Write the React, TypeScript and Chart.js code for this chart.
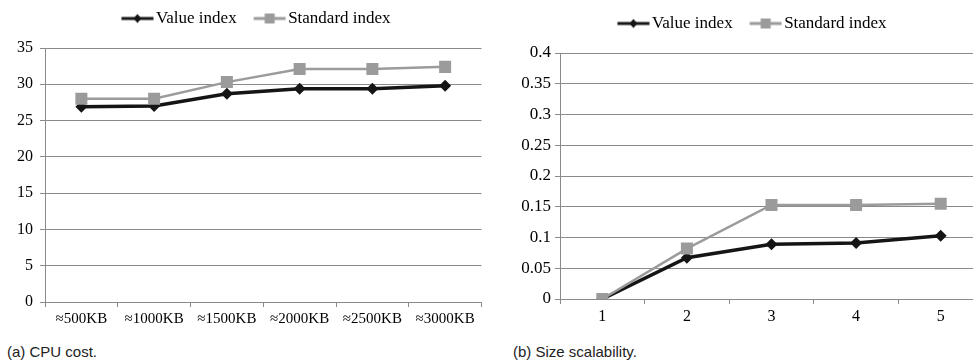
import React, { useEffect, useRef } from "react";
import { Chart, registerables } from "chart.js";

Chart.register(...registerables);

const SERIF = "'Liberation Serif', 'DejaVu Serif', serif";
Chart.defaults.font.family = SERIF;

const seriesNames = ["Value index", "Standard index"];

const cpuCategories = ["≈500KB", "≈1000KB", "≈1500KB", "≈2000KB", "≈2500KB", "≈3000KB"];
const cpuValueIndex = [26.9, 27.0, 28.7, 29.4, 29.4, 29.8];
const cpuStandardIndex = [28.0, 28.0, 30.3, 32.1, 32.1, 32.4];

const sizeCategories = ["1", "2", "3", "4", "5"];
const sizeValueIndex = [0, 0.067, 0.089, 0.091, 0.103];
const sizeStandardIndex = [0, 0.082, 0.153, 0.153, 0.155];

const BLACK = "#151515";
const GRAY = "#9b9b9b";
const GRID = "#8a8a8a";

const LEGEND_FONT = 17;
const BOX_W = 33;
const IMG_W = 46;
const LINE_START = 13.5;
const LINE_LEN = 32;

function legendImage(kind: "diamond" | "square", color: string) {
  const c = document.createElement("canvas");
  c.width = IMG_W;
  c.height = 16;
  const ctx = c.getContext("2d")!;
  const cy = 8;
  ctx.strokeStyle = color;
  ctx.lineWidth = 3;
  ctx.beginPath();
  ctx.moveTo(LINE_START, cy);
  ctx.lineTo(LINE_START + LINE_LEN, cy);
  ctx.stroke();
  const cx = LINE_START + LINE_LEN / 2;
  ctx.fillStyle = color;
  ctx.beginPath();
  if (kind === "diamond") {
    ctx.moveTo(cx, cy - 4.5);
    ctx.lineTo(cx + 4, cy);
    ctx.lineTo(cx, cy + 4.5);
    ctx.lineTo(cx - 4, cy);
    ctx.closePath();
  } else {
    ctx.rect(cx - 5, cy - 5, 10, 10);
  }
  ctx.fill();
  return c;
}

type Cfg = {
  labels: string[];
  value: number[];
  standard: number[];
  yMax: number;
  yStep: number;
  yWidth: number;
  padLeft: number;
  padRight: number;
  padTop: number;
  xHeight: number;
  yFontSize: number;
  yPad: number;
  fmt: (v: number) => string;
  xFontSize: number;
};

function LineChart({ cfg }: { cfg: Cfg }) {
  const ref = useRef<HTMLCanvasElement | null>(null);
  useEffect(() => {
    if (!ref.current) return;
    const imgs = [legendImage("diamond", BLACK), legendImage("square", GRAY)];
    const chart = new Chart(ref.current, {
      type: "line",
      data: {
        labels: cfg.labels,
        datasets: [
          {
            label: seriesNames[0],
            data: cfg.value,
            borderColor: BLACK,
            backgroundColor: BLACK,
            borderWidth: 3.5,
            pointStyle: "rectRot",
            pointRadius: 6,
            pointBackgroundColor: BLACK,
            pointBorderColor: BLACK,
            pointBorderWidth: 0,
            tension: 0,
            order: 1,
          },
          {
            label: seriesNames[1],
            data: cfg.standard,
            borderColor: GRAY,
            backgroundColor: GRAY,
            borderWidth: 2.5,
            pointStyle: "rect",
            pointRadius: 8.5,
            pointBackgroundColor: GRAY,
            pointBorderColor: GRAY,
            pointBorderWidth: 0,
            tension: 0,
            order: 0,
          },
        ],
      },
      options: {
        animation: false,
        responsive: true,
        maintainAspectRatio: false,
        font: { family: SERIF },
        layout: { padding: { left: cfg.padLeft, top: cfg.padTop, right: cfg.padRight, bottom: 0 } },
        plugins: {
          tooltip: { enabled: false },
          legend: {
            display: true,
            position: "top",
            labels: {
              usePointStyle: true,
              pointStyleWidth: BOX_W,
              padding: 10,
              color: "#000",
              font: { family: SERIF, size: LEGEND_FONT },
              generateLabels: (ch: any) =>
                ch.data.datasets.map((ds: any, i: number) => ({
                  text: ds.label,
                  pointStyle: imgs[i],
                  fillStyle: "transparent",
                  strokeStyle: "transparent",
                  lineWidth: 0,
                  hidden: false,
                  datasetIndex: i,
                  fontColor: "#000",
                })),
            },
          },
          subtitle: {
            display: true,
            text: "",
            weight: 500,
            padding: 0,
            font: { size: 11, lineHeight: 1 },
          } as any,
        },
        scales: {
          x: {
            type: "category",
            offset: true,
            grid: {
              offset: true,
              drawOnChartArea: false,
              drawTicks: true,
              tickLength: 5,
              color: GRID,
            },
            border: { display: true, color: GRID, width: 1 },
            ticks: {
              color: "#000",
              font: { family: SERIF, size: cfg.xFontSize },
              padding: 3,
              maxRotation: 0,
              autoSkip: false,
            },
            afterFit: (s: any) => {
              s.height = cfg.xHeight;
            },
          },
          y: {
            min: 0,
            max: cfg.yMax,
            grid: { color: GRID, tickLength: 5, drawTicks: true },
            border: { display: true, color: GRID, width: 1 },
            ticks: {
              stepSize: cfg.yStep,
              color: "#000",
              padding: cfg.yPad,
              font: { family: SERIF, size: cfg.yFontSize },
              callback: (v: any) => cfg.fmt(Number(v)),
            },
            afterFit: (s: any) => {
              s.width = cfg.yWidth;
            },
          },
        },
      },
    });
    return () => chart.destroy();
  }, [cfg]);
  return <canvas ref={ref} />;
}

const leftCfg: Cfg = {
  labels: cpuCategories,
  value: cpuValueIndex,
  standard: cpuStandardIndex,
  yMax: 35,
  yStep: 5,
  yWidth: 30,
  padLeft: 15,
  padRight: 0,
  padTop: 0,
  xHeight: 28,
  yFontSize: 16,
  yPad: 7,
  fmt: (v) => String(Math.round(v)),
  xFontSize: 15,
};

const rightCfg: Cfg = {
  labels: sizeCategories,
  value: sizeValueIndex,
  standard: sizeStandardIndex,
  yMax: 0.4,
  yStep: 0.05,
  yWidth: 46,
  padLeft: 24,
  padRight: 14,
  padTop: 5,
  xHeight: 28,
  yFontSize: 17,
  yPad: 4,
  fmt: (v) => String(Number(v.toFixed(2))),
  xFontSize: 16,
};

const captionStyle: React.CSSProperties = {
  position: "absolute",
  top: 343,
  fontFamily: "'Liberation Sans', 'DejaVu Sans', sans-serif",
  fontSize: 15,
  lineHeight: "17px",
  color: "#222",
  whiteSpace: "nowrap",
};

export default function App() {
  return (
    <div
      style={{
        position: "fixed",
        left: 0,
        top: 0,
        width: 973,
        height: 363,
        overflow: "hidden",
        background: "#fff",
      }}
    >
      <div style={{ position: "absolute", left: 0, top: 0, width: 490, height: 330 }}>
        <LineChart cfg={leftCfg} />
      </div>
      <div style={{ position: "absolute", left: 490, top: 0, width: 507, height: 327 }}>
        <LineChart cfg={rightCfg} />
      </div>
      <div style={{ ...captionStyle, left: 7 }}>(a) CPU cost.</div>
      <div style={{ ...captionStyle, left: 513 }}>(b) Size scalability.</div>
    </div>
  );
}
